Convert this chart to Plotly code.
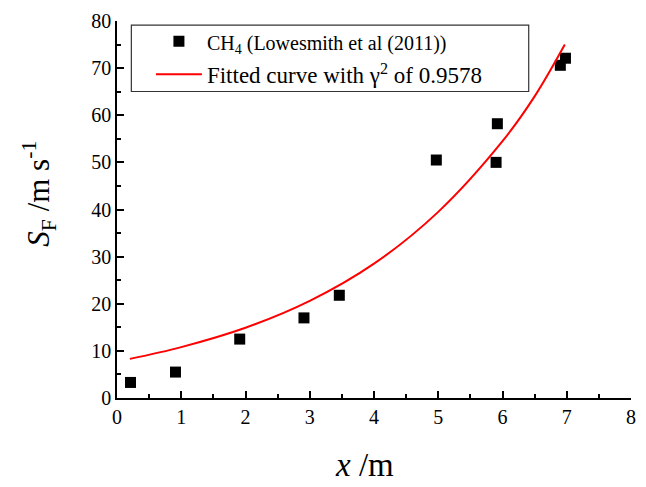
import plotly.graph_objects as go

# Measured data (CH4, Lowesmith et al 2011)
x_data = [0.21, 0.91, 1.91, 2.91, 3.46, 4.97, 5.92, 5.90, 6.90, 6.98]
y_data = [3.3, 5.5, 12.5, 17.0, 21.8, 50.5, 58.2, 50.0, 70.6, 72.1]

# Fitted curve
x_fit = [0.2, 1.0, 2.0, 3.0, 4.0, 5.0, 6.0, 6.5, 6.97]
y_fit = [8.3, 10.8, 14.9, 20.6, 28.5, 39.5, 54.5, 64.0, 75.0]

x_ticks = [0, 1, 2, 3, 4, 5, 6, 7, 8]
y_ticks = [0, 10, 20, 30, 40, 50, 60, 70, 80]

FONT = "Liberation Serif, Times New Roman, serif"

fig = go.Figure()
fig.add_trace(go.Scatter(
    x=x_data, y=y_data, mode="markers",
    marker=dict(symbol="square", size=11, color="black"),
    name='<span style="font-size:20px">CH<sub>4</sub> (Lowesmith et al (2011))</span>',
))
fig.add_trace(go.Scatter(
    x=x_fit, y=y_fit, mode="lines", line_shape="spline",
    line=dict(color="#ff0000", width=2),
    name="Fitted curve with γ<sup>2</sup> of 0.9578",
))

axis_common = dict(
    showline=True, linecolor="black", linewidth=1.5,
    ticks="inside", ticklen=7, tickwidth=1.5, tickcolor="black",
    showgrid=False, zeroline=False, mirror=False,
    tickfont=dict(family=FONT, size=20, color="black"),
)

fig.update_xaxes(
    range=[0, 8], tickmode="array", tickvals=x_ticks,
    minor=dict(ticks="inside", ticklen=4, tickwidth=1.5, tickcolor="black", dtick=0.5),
    **axis_common,
)
fig.update_yaxes(
    range=[0, 80], tickmode="array", tickvals=y_ticks,
    minor=dict(ticks="inside", ticklen=4, tickwidth=1.5, tickcolor="black", dtick=5),
    **axis_common,
)

# Axis titles
fig.add_annotation(text="<i>x</i> /m", xref="paper", yref="paper",
                   x=0.482, y=-0.179, xanchor="center", yanchor="middle",
                   showarrow=False, font=dict(family=FONT, size=33, color="black"))
fig.add_annotation(text="<i>S</i><sub>F</sub> /m s<sup>-1</sup>", xref="paper", yref="paper",
                   x=-0.151, y=0.543, xanchor="center", yanchor="middle", textangle=-90,
                   showarrow=False, font=dict(family=FONT, size=31, color="black"))

fig.add_shape(type="rect", xref="paper", yref="paper",
              x0=0.0279, x1=0.801, y0=0.813, y1=0.989,
              line=dict(color="#333333", width=1.2), fillcolor="rgba(0,0,0,0)")

fig.update_layout(
    width=646, height=487,
    margin=dict(l=116.5, r=9.5, t=18, b=89),
    paper_bgcolor="white", plot_bgcolor="white",
    font=dict(family=FONT, color="black"),
    showlegend=True,
    legend=dict(
        x=0.066, y=1.003, xanchor="left", yanchor="top",
        bgcolor="rgba(0,0,0,0)", borderwidth=0,
        font=dict(family=FONT, size=23, color="black"),
        itemwidth=46, tracegroupgap=0,
    ),
)

fig.write_html("out.html")
